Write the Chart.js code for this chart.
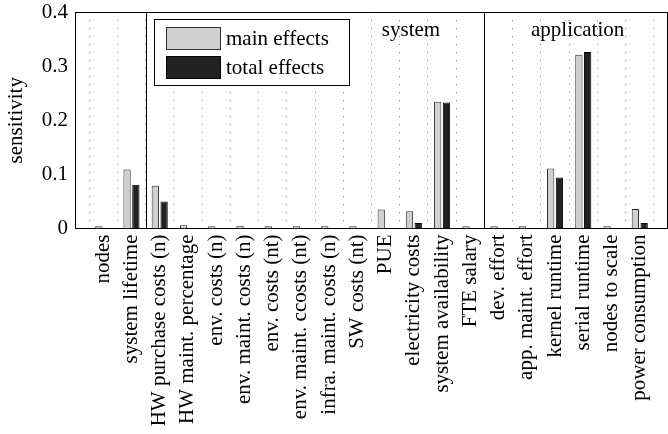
<!DOCTYPE html>
<html>
<head>
<meta charset="utf-8">
<script src="https://cdn.jsdelivr.net/npm/chart.js@4.4.1/dist/chart.umd.min.js"></script>
<style>
  html, body { margin: 0; padding: 0; background: #fff; }
  #wrap { width: 668px; height: 434px; }
</style>
</head>
<body>
<div id="wrap"><canvas id="myChart"></canvas></div>
<script>
const categories = ['nodes', 'system lifetime', 'HW purchase costs (n)', 'HW maint. percentage',
  'env. costs (n)', 'env. maint. costs (n)', 'env. costs (nt)', 'env. maint. ccosts (nt)',
  'infra. maint. costs (n)', 'SW costs (nt)', 'PUE', 'electricity costs', 'system availability',
  'FTE salary', 'dev. effort', 'app. maint. effort', 'kernel runtime', 'serial runtime',
  'nodes to scale', 'power consumption'];
const mainEffects  = [0.004, 0.109, 0.079, 0.006, 0.004, 0.005, 0.004, 0.004, 0.004, 0.004,
  0.035, 0.032, 0.234, 0.004, 0.004, 0.004, 0.111, 0.321, 0.004, 0.036];
const totalEffects = [0, 0.081, 0.050, 0, 0, 0, 0, 0, 0, 0,
  0, 0.010, 0.233, 0, 0, 0, 0.094, 0.326, 0, 0.010];
const seriesNames = ['main effects', 'total effects'];
const yTickLabels = ['0', '0.1', '0.2', '0.3', '0.4'];
const groupNames = ['system', 'application'];
const groupStart = [2, 14];        // first category of each group
const groupLabelAt = [10.9, 16.8]; // where the group name sits (category units)

const FONT = 'Liberation Serif';

// one empty slot on each side, like the original axis limits
const labels = [''].concat(categories, ['']);
const pad = arr => [null].concat(arr, [null]);

const decor = {
  id: 'decor',
  beforeDatasetsDraw(chart) {
    const {ctx, chartArea: a, scales: {x}} = chart;
    const px = i => x.getPixelForValue(i + 1);
    ctx.save();
    ctx.strokeStyle = '#000';
    ctx.lineWidth = 1;
    ctx.beginPath();
    ctx.moveTo(a.left, a.top + 0.5);
    ctx.lineTo(a.right, a.top + 0.5);
    ctx.moveTo(a.right - 0.5, a.top);
    ctx.lineTo(a.right - 0.5, a.bottom);
    groupStart.forEach(s => {
      const xx = Math.round(px(s - 0.5)) + 0.5;
      ctx.moveTo(xx, a.top);
      ctx.lineTo(xx, a.bottom);
    });
    ctx.stroke();
    ctx.fillStyle = '#000';
    ctx.font = '21px "' + FONT + '"';
    ctx.textAlign = 'center';
    ctx.textBaseline = 'alphabetic';
    groupNames.forEach((n, i) => ctx.fillText(n, px(groupLabelAt[i]), a.top + 24));
    ctx.restore();
  },
  afterDraw(chart) {
    const {ctx, chartArea: a} = chart;
    const bx = a.left + 79, by = a.top + 7, bw = 195, bh = 66;
    ctx.save();
    ctx.fillStyle = '#fff';
    ctx.fillRect(bx, by, bw, bh);
    ctx.strokeStyle = '#000';
    ctx.lineWidth = 1;
    ctx.strokeRect(bx + 0.5, by + 0.5, bw, bh);
    chart.data.datasets.forEach((ds, i) => {
      const sy = by + 8 + i * 29;
      ctx.fillStyle = ds.backgroundColor;
      ctx.fillRect(bx + 12, sy, 54, 22);
      ctx.strokeStyle = ds.borderColor;
      ctx.strokeRect(bx + 12.5, sy + 0.5, 54, 22);
      ctx.fillStyle = '#000';
      ctx.font = '21px "' + FONT + '"';
      ctx.textBaseline = 'alphabetic';
      ctx.fillText(ds.label, bx + 72, sy + 18);
    });
    ctx.restore();
  }
};

new Chart(document.getElementById('myChart'), {
  type: 'bar',
  data: {
    labels: labels,
    datasets: [{
      label: seriesNames[0],
      data: pad(mainEffects),
      backgroundColor: '#d0d0d0',
      borderColor: '#333',
      borderWidth: 1,
      borderSkipped: 'start'
    }, {
      label: seriesNames[1],
      data: pad(totalEffects),
      backgroundColor: '#222',
      borderColor: '#000',
      borderWidth: 1,
      borderSkipped: 'start'
    }]
  },
  options: {
    responsive: true,
    maintainAspectRatio: false,
    animation: false,
    categoryPercentage: 0.623,
    barPercentage: 0.83,
    layout: { padding: { top: 12, right: 0, left: 0, bottom: 0 } },
    plugins: { legend: { display: false }, tooltip: { enabled: false } },
    scales: {
      x: {
        offset: false,
        grid: { offset: true, color: '#777', lineWidth: 1, drawTicks: false },
        border: { display: true, color: '#000', width: 1, dash: [1, 7] },
        ticks: {
          autoSkip: false, maxRotation: 90, minRotation: 90, padding: 6,
          color: '#000', font: { family: FONT, size: 21 }
        },
        afterFit(scale) {
          scale.height = 205.5;
          scale.paddingLeft = 0;
          scale.paddingRight = 0;
        }
      },
      y: {
        min: 0, max: 0.4,
        grid: { display: false, drawTicks: false },
        border: { display: true, color: '#000', width: 1 },
        ticks: {
          stepSize: 0.1, padding: 7, color: '#000',
          font: { family: FONT, size: 21 },
          callback: (v, i) => yTickLabels[i]
        },
        title: {
          display: true, text: 'sensitivity', color: '#000',
          font: { family: FONT, size: 21 }, padding: { top: 4, bottom: 0 }
        },
        afterFit(scale) {
          scale.width = 75;
          scale.paddingTop = 0;
          scale.paddingBottom = 0;
        }
      }
    }
  },
  plugins: [decor]
});
</script>
</body>
</html>
